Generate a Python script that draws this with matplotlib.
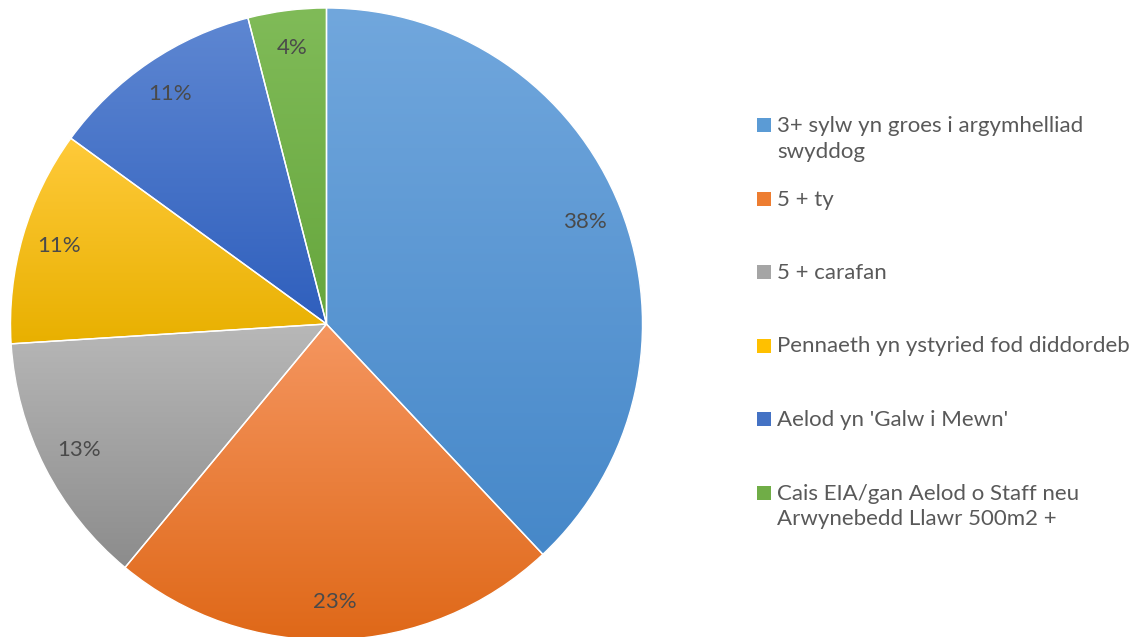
import numpy as np
import matplotlib.pyplot as plt
from matplotlib.colors import to_rgb
from matplotlib.patches import Rectangle

labels = ["3+ sylw yn groes i argymhelliad\nswyddog", "5 + ty", "5 + carafan",
          "Pennaeth yn ystyried fod diddordeb", "Aelod yn 'Galw i Mewn'",
          "Cais EIA/gan Aelod o Staff neu\nArwynebedd Llawr 500m2 +"]
values = [38, 23, 13, 11, 11, 4]
top_colors = ["#71a7dd", "#f59660", "#b8b8b8", "#ffca3a", "#5e87d2", "#80bb58"]
bot_colors = ["#4688c9", "#df6818", "#8c8c8c", "#e8b000", "#2f5fbd", "#66a63d"]
legend_colors = ["#5b9bd5", "#ed7d31", "#a5a5a5", "#ffc000", "#4472c4", "#70ad47"]

plt.rcParams['font.family'] = ['Lato', 'DejaVu Sans']

fig = plt.figure(figsize=(11.37, 6.37), dpi=100)
ax = fig.add_axes([10 / 1137, -3 / 637, 633 / 1137, 632 / 637])

wedges, texts, autotexts = ax.pie(values, startangle=90, counterclock=False,
                                  autopct='%1.0f%%', pctdistance=0.88,
                                  wedgeprops=dict(edgecolor='white', linewidth=1),
                                  textprops=dict(color='#4a4a4a', fontsize=16))

# gradient fill for each slice, light at top, dark at bottom
for w, c1, c2 in zip(wedges, top_colors, bot_colors):
    bb = w.get_path().get_extents()
    t = np.linspace(0, 1, 256)[:, None]
    grad = (1 - t) * np.array(to_rgb(c1)) + t * np.array(to_rgb(c2))
    im = ax.imshow(grad[:, None, :], extent=[bb.x0, bb.x1, bb.y0, bb.y1],
                   origin='upper', aspect='auto', zorder=w.get_zorder() - 0.1)
    im.set_clip_path(w)
    w.set_facecolor('none')

for t in autotexts:
    t.set_zorder(5)

ax.set_xlim(-1.0, 1.0)
ax.set_ylim(-1.0, 1.0)
ax.set_aspect('equal')
ax.axis('off')

# legend on the right
W, H = 1137, 637
y = 125
for lab, col in zip(labels, legend_colors):
    fig.patches.append(Rectangle(((757) / W, 1 - (y + 7) / H), 14 / W, 14 / H,
                                 transform=fig.transFigure, facecolor=col,
                                 edgecolor='none'))
    fig.text(777 / W, 1 - (y - 9) / H, lab, fontsize=16, color='#595959',
             va='top', ha='left', linespacing=1.36,
             transform=fig.transFigure)
    y += 73.5

fig.savefig("out.png", dpi=100)
